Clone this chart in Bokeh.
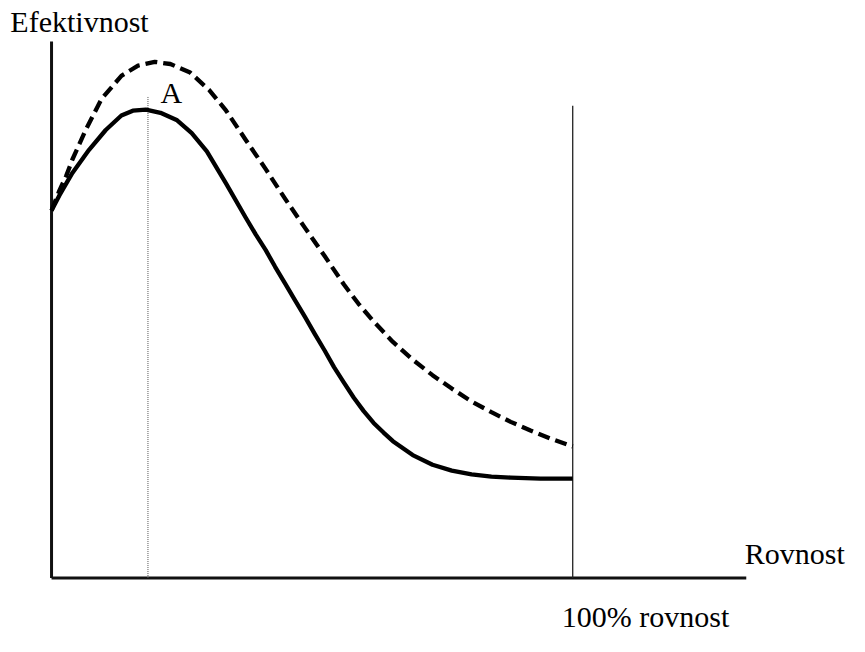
from bokeh.plotting import figure
from bokeh.models import Range1d, Label
from bokeh.embed import file_html
from bokeh.resources import INLINE

# Data: x = rovnost (equality, % of full), y = efektivnost (efficiency, arbitrary 0-100)
solid_x = [0, 1.5, 4.0, 7.2, 10.4, 13.4, 15.6, 18.1, 20.9, 24.1, 26.9, 29.8, 33.5, 37.3,
           39.2, 41.1, 42.9, 44.8, 46.7, 48.6, 50.5, 52.4, 54.2, 56.1, 58.0, 59.9, 61.8,
           63.7, 65.5, 69.3, 73.1, 76.8, 80.6, 84.4, 88.1, 93.8, 100]
solid_y = [68.5, 71.3, 75.5, 79.8, 83.5, 86.2, 87.1, 87.3, 86.7, 85.3, 82.9, 79.5, 73.5, 67.1,
           64.0, 61.1, 58.0, 54.9, 51.8, 48.7, 45.5, 42.4, 39.3, 36.4, 33.6, 31.1, 28.9,
           27.1, 25.5, 22.9, 21.1, 20.0, 19.3, 18.9, 18.7, 18.5, 18.5]

dashed_x = [0, 1.5, 2.8, 4.0, 6.6, 9.6, 13.4, 16.6, 19.8, 22.8, 26.6, 30.3, 33.5, 37.3,
            41.1, 44.8, 48.6, 52.4, 56.1, 58.9, 61.8, 65.5, 69.3, 73.1, 76.8, 80.6, 84.4,
            88.1, 91.9, 95.7, 100]
dashed_y = [68.5, 72.2, 74.9, 78.0, 83.6, 89.3, 93.6, 95.5, 96.2, 95.8, 94.2, 90.9, 87.1, 81.6,
            76.2, 70.7, 65.3, 60.0, 54.7, 51.1, 47.8, 44.0, 40.7, 37.8, 35.3, 32.9, 30.9,
            29.1, 27.5, 26.0, 24.5]

peak_x = 18.5          # point A (optimum equality)
peak_top = 89.8
full_equality = 100    # 100% rovnost
full_top = 88.0
x_axis_end = 133.3
y_axis_top = 100.0

y_label = "Efektivnost"
x_label = "Rovnost"
peak_label = "A"
full_label = "100% rovnost"

# layout: pixel scale (reference 865x652 scaled into the 849x636 figure)
W, H = 849, 636
kx, ky = W / 865, H / 652
ox, oy = 52 * kx, 592 * ky          # data origin in figure pixels
sx, sy = 5.31 * kx, 5.5 * ky        # pixels per data unit

p = figure(width=W, height=H, output_backend="svg", toolbar_location=None,
           x_range=Range1d(-ox / sx, (W - ox) / sx),
           y_range=Range1d(-(H - oy) / sy, oy / sy),
           min_border=0, outline_line_color=None)
p.axis.visible = False
p.grid.visible = False
p.background_fill_color = "white"
p.border_fill_color = "white"

# axes
p.line([0, 0], [0, y_axis_top], line_color="#111111", line_width=3)
p.line([0, x_axis_end], [0, 0], line_color="#111111", line_width=3)
# 100% equality line
p.line([full_equality, full_equality], [0, full_top], line_color="#222222", line_width=1.3)
# dotted line at A
p.line([peak_x, peak_x], [0, peak_top], line_color="#555555", line_width=1, line_dash="1 1")

# curves
p.line(dashed_x, dashed_y, line_color="black", line_width=4.3, line_dash="12 6",
       line_join="round")
p.line(solid_x, solid_y, line_color="black", line_width=4.3, line_join="round")

font = "Liberation Serif"
fs = "30px"
for tx, ty, t in [(-7.9, 103.8, y_label), (20.9, 90.5, peak_label),
                  (133.0, 4.5, x_label), (97.9, -7.1, full_label)]:
    p.add_layout(Label(x=tx, y=ty, text=t, text_font=font, text_font_size=fs,
                       text_color="black", text_baseline="alphabetic"))

open("out.html", "w").write(file_html(p, INLINE))
